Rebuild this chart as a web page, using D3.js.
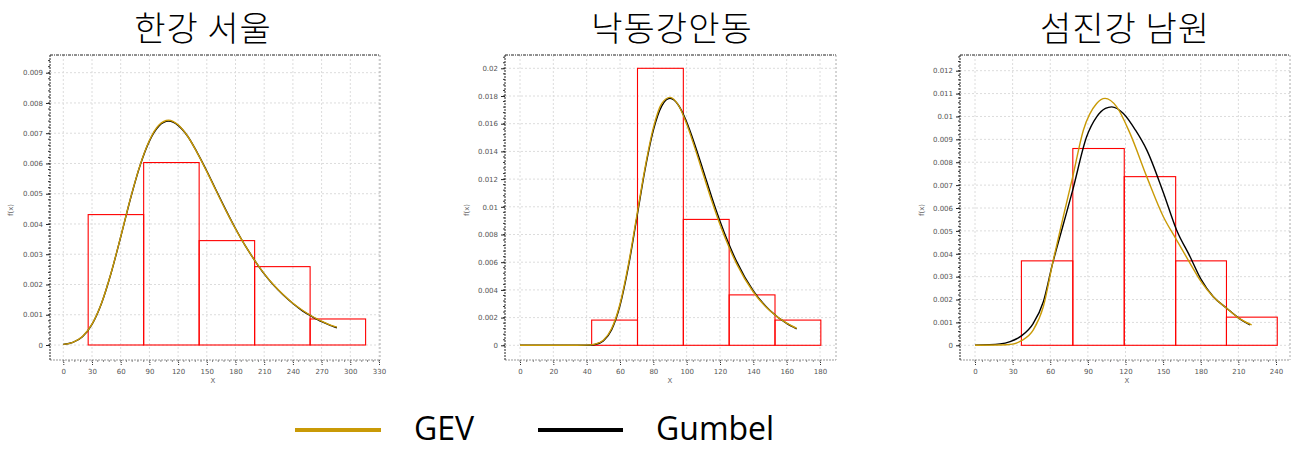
<!DOCTYPE html>
<html><head><meta charset="utf-8">
<script src="https://cdn.jsdelivr.net/npm/d3@7"></script>
<style>body{margin:0;background:#fff}</style>
</head><body><svg id="c" width="1297" height="449"></svg>
<script>
// ---------- DATA ----------
const titles = ["한강 서울", "낙동강안동", "섬진강 남원"];
const seriesNames = ["GEV", "Gumbel"];
const yLabel = "f(x)";
const xLabel = "X";

// Panel 1 : 한강 서울
const p1XTicks = [0, 30, 60, 90, 120, 150, 180, 210, 240, 270, 300, 330];
const p1YTicks = [0, 0.001, 0.002, 0.003, 0.004, 0.005, 0.006, 0.007, 0.008, 0.009];
const p1BinEdges = [26, 84, 142, 200, 258, 316];
const p1BinDensity = [0.00431, 0.00603, 0.00345, 0.00259, 0.00086];
const p1CurveX = [0, 10, 20, 30, 40, 50, 60, 70, 80, 90, 100, 110, 120, 130, 140, 150, 160, 170, 180, 190, 200, 210, 220, 230, 240, 250, 260, 270, 280, 286];
const p1GumbelY = [0.00002, 0.000085, 0.00027, 0.00068, 0.00138, 0.00238, 0.00357, 0.00481, 0.00591, 0.00674, 0.00724, 0.0074, 0.00726, 0.0069, 0.00636, 0.00575, 0.0051, 0.00446, 0.00385, 0.00329, 0.0028, 0.00235, 0.00197, 0.00165, 0.00137, 0.00113, 0.00094, 0.00077, 0.00064, 0.00057];
const p1GevY = [0.00002, 0.00009, 0.00028, 0.00069, 0.00139, 0.00239, 0.00358, 0.00482, 0.00592, 0.00676, 0.00727, 0.00743, 0.00728, 0.0069, 0.00635, 0.00573, 0.00508, 0.00444, 0.00384, 0.00329, 0.0028, 0.00236, 0.00198, 0.00166, 0.00138, 0.00115, 0.00095, 0.00079, 0.00065, 0.00059];

// Panel 2 : 낙동강안동
const p2XTicks = [0, 20, 40, 60, 80, 100, 120, 140, 160, 180];
const p2YTicks = [0, 0.002, 0.004, 0.006, 0.008, 0.01, 0.012, 0.014, 0.016, 0.018, 0.02];
const p2BinEdges = [43, 70.5, 98, 125.5, 153, 180.5];
const p2BinDensity = [0.00182, 0.02, 0.00909, 0.00364, 0.00182];
const p2CurveX = [0, 20, 30, 40, 45, 50, 55, 60, 65, 70, 75, 80, 85, 90, 95, 100, 105, 110, 115, 120, 125, 130, 140, 150, 160, 166];
const p2GumbelY = [0, 0, 0, 0.000007, 0.00006, 0.00032, 0.00113, 0.00287, 0.00566, 0.00915, 0.01267, 0.01552, 0.01727, 0.01783, 0.01735, 0.01612, 0.01445, 0.01259, 0.01071, 0.00896, 0.0074, 0.00604, 0.00393, 0.00251, 0.00158, 0.00119];
const p2GevY = [0, 0, 0, 0.00001, 0.00008, 0.00036, 0.00121, 0.00298, 0.0058, 0.0093, 0.0128, 0.0157, 0.01745, 0.0179, 0.01735, 0.01598, 0.01422, 0.01233, 0.01045, 0.00872, 0.0072, 0.00588, 0.00385, 0.00249, 0.0016, 0.00123];

// Panel 3 : 섬진강 남원
const p3XTicks = [0, 30, 60, 90, 120, 150, 180, 210, 240];
const p3YTicks = [0, 0.001, 0.002, 0.003, 0.004, 0.005, 0.006, 0.007, 0.008, 0.009, 0.01, 0.011, 0.012];
const p3BinEdges = [37, 78, 119, 160, 200.5, 241];
const p3BinDensity = [0.00369, 0.0086, 0.00737, 0.00369, 0.00123];
const p3GumbelX = [0, 20, 28, 37, 46.5, 54.5, 62, 70, 77.9, 89, 97, 104, 109, 118.3, 128, 137, 150, 160.8, 171.5, 180, 190, 200.7, 210, 219.3];
const p3GumbelY = [0, 0.00006, 0.00016, 0.00041, 0.00096, 0.0019, 0.0036, 0.0052, 0.00678, 0.00911, 0.00998, 0.01035, 0.01042, 0.01013, 0.0094, 0.00853, 0.0067, 0.00503, 0.00387, 0.0029, 0.00212, 0.00162, 0.0012, 0.00089];
const p3GevX = [0, 20, 30, 37, 46.5, 54.5, 62.4, 70.4, 77.9, 86.4, 97, 103.7, 113, 123.6, 137, 150.2, 160, 171.5, 180, 190, 200.7, 210, 220.6];
const p3GevY = [0, 0.00001, 0.00005, 0.0002, 0.00067, 0.00169, 0.00372, 0.00562, 0.00736, 0.0094, 0.01057, 0.01079, 0.01042, 0.00926, 0.00736, 0.00562, 0.00467, 0.00358, 0.0028, 0.00212, 0.00162, 0.0012, 0.00089];

// ---------- LAYOUT ----------
const colors = { GEV: "#C99A06", Gumbel: "#000000", bar: "#FF0000" };
const panels = [
  { title: titles[0], titleX: 203, left: 50, right: 380, x0: 63.3, x1: 379, y0: 345, y1: 72.7,
    xTicks: p1XTicks, yTicks: p1YTicks, edges: p1BinEdges, dens: p1BinDensity,
    gum: [p1CurveX, p1GumbelY], gev: [p1CurveX, p1GevY], ylabX: 13, xlabX: 213 },
  { title: titles[1], titleX: 672, left: 505, right: 836, x0: 520, x1: 820, y0: 345.3, y1: 68.3,
    xTicks: p2XTicks, yTicks: p2YTicks, edges: p2BinEdges, dens: p2BinDensity,
    gum: [p2CurveX, p2GumbelY], gev: [p2CurveX, p2GevY], ylabX: 469, xlabX: 670 },
  { title: titles[2], titleX: 1125, left: 960, right: 1290, x0: 975, x1: 1276, y0: 345.3, y1: 70.7,
    xTicks: p3XTicks, yTicks: p3YTicks, edges: p3BinEdges, dens: p3BinDensity,
    gum: [p3GumbelX, p3GumbelY], gev: [p3GevX, p3GevY], ylabX: 924, xlabX: 1127 }
];
const plotTop = 55, plotBottom = 360;

const svg = d3.select("#c");
svg.append("rect").attr("width", 1297).attr("height", 449).attr("fill", "#fff");
const fmt = d => d === 0 ? "0" : String(+d.toFixed(4));

panels.forEach(p => {
  const xTop = p.xTicks[p.xTicks.length - 1];
  const yTop = p.yTicks[p.yTicks.length - 1];
  const x = d3.scaleLinear().domain([0, xTop]).range([p.x0, p.x1]);
  const y = d3.scaleLinear().domain([0, yTop]).range([p.y0, p.y1]);
  const g = svg.append("g");

  // gridlines
  g.selectAll(".gx").data(p.xTicks).join("line")
    .attr("x1", d => x(d)).attr("x2", d => x(d)).attr("y1", plotTop).attr("y2", plotBottom)
    .attr("stroke", "#dcdcdc").attr("stroke-width", 1).attr("stroke-dasharray", "2,2");
  g.selectAll(".gy").data(p.yTicks).join("line")
    .attr("x1", p.left).attr("x2", p.right).attr("y1", d => y(d)).attr("y2", d => y(d))
    .attr("stroke", "#dcdcdc").attr("stroke-width", 1).attr("stroke-dasharray", "2,2");

  // frame: top & right
  g.append("line").attr("x1", p.left).attr("x2", p.right).attr("y1", plotTop).attr("y2", plotTop)
    .attr("stroke", "#222").attr("stroke-width", 1).attr("stroke-dasharray", "3,1,1,1");
  g.append("line").attr("x1", p.right).attr("x2", p.right).attr("y1", plotTop).attr("y2", plotBottom)
    .attr("stroke", "#aaa").attr("stroke-width", 1).attr("stroke-dasharray", "2,2");

  // minor ticks
  const xStep = p.xTicks[1] - p.xTicks[0];
  const yStep = p.yTicks[1] - p.yTicks[0];
  const xMinor = d3.range(0, xTop + 1e-9, xStep / 5).filter(v => x(v) >= p.left && x(v) <= p.right);
  const yMinor = d3.range(0, yTop + yStep, yStep / 5).filter(v => y(v) >= plotTop && y(v) <= plotBottom);

  // axes
  const xAxis = d3.axisBottom(x).tickValues(p.xTicks).tickFormat(d => d).tickSize(5).tickPadding(4);
  const ax = g.append("g").attr("transform", `translate(0,${plotBottom})`).call(xAxis);
  ax.select(".domain").remove();
  ax.selectAll(".tick line").attr("stroke", "#333").attr("stroke-dasharray", "1,1");
  ax.selectAll("text").attr("font-family", "DejaVu Sans").attr("font-size", 7).attr("fill", "#555");
  g.append("line").attr("x1", p.left).attr("x2", p.right).attr("y1", plotBottom).attr("y2", plotBottom)
    .attr("stroke", "#999").attr("stroke-dasharray", "2,1");
  g.selectAll(".mx").data(xMinor).join("line")
    .attr("x1", d => x(d)).attr("x2", d => x(d)).attr("y1", plotBottom).attr("y2", plotBottom + 2)
    .attr("stroke", "#888");

  const yAxis = d3.axisLeft(y).tickValues(p.yTicks).tickFormat(fmt).tickSize(4).tickPadding(3);
  const ay = g.append("g").attr("transform", `translate(${p.left},0)`).call(yAxis);
  ay.select(".domain").remove();
  ay.selectAll(".tick line").attr("stroke", "#222");
  ay.selectAll("text").attr("font-family", "DejaVu Sans").attr("font-size", 7).attr("fill", "#555");
  g.append("line").attr("x1", p.left).attr("x2", p.left).attr("y1", plotTop).attr("y2", plotBottom)
    .attr("stroke", "#222").attr("stroke-dasharray", "2,1");
  g.selectAll(".my").data(yMinor).join("line")
    .attr("x1", p.left - 2).attr("x2", p.left).attr("y1", d => y(d)).attr("y2", d => y(d))
    .attr("stroke", "#333");

  // axis titles
  g.append("text").attr("transform", `translate(${p.ylabX},210) rotate(-90)`)
    .attr("text-anchor", "middle").attr("font-family", "DejaVu Sans").attr("font-size", 7)
    .attr("fill", "#666").text(yLabel);
  g.append("text").attr("x", p.xlabX).attr("y", 383).attr("text-anchor", "middle")
    .attr("font-family", "DejaVu Sans").attr("font-size", 7).attr("fill", "#666").text(xLabel);

  // histogram
  g.selectAll(".bar").data(p.dens).join("rect")
    .attr("x", (d, i) => x(p.edges[i]))
    .attr("width", (d, i) => x(p.edges[i + 1]) - x(p.edges[i]))
    .attr("y", d => y(d)).attr("height", d => y(0) - y(d))
    .attr("fill", "none").attr("stroke", colors.bar).attr("stroke-width", 1.1);

  // curves
  const line = d3.line().x(d => x(d[0])).y(d => y(d[1])).curve(d3.curveMonotoneX);
  const gumPts = p.gum[0].map((v, i) => [v, p.gum[1][i]]);
  const gevPts = p.gev[0].map((v, i) => [v, p.gev[1][i]]);
  g.append("path").attr("d", line(gumPts)).attr("fill", "none")
    .attr("stroke", colors.Gumbel).attr("stroke-width", 1.4);
  g.append("path").attr("d", line(gevPts)).attr("fill", "none")
    .attr("stroke", colors.GEV).attr("stroke-width", 1.4);

  // title
  svg.append("text").attr("x", p.titleX).attr("y", 41).attr("text-anchor", "middle")
    .attr("font-family", "'Noto Sans CJK KR', 'Noto Sans'").attr("font-size", 34)
    .attr("font-weight", 300).attr("letter-spacing", 1)
    .attr("fill", "#000").text(p.title);
});

// legend
const legend = [
  { name: seriesNames[0], x1: 295, x2: 381, tx: 414 },
  { name: seriesNames[1], x1: 538, x2: 623, tx: 656 }
];
legend.forEach(l => {
  svg.append("line").attr("x1", l.x1).attr("x2", l.x2).attr("y1", 430).attr("y2", 430)
    .attr("stroke", colors[l.name]).attr("stroke-width", 4);
  svg.append("text").attr("x", l.tx).attr("y", 440).attr("font-family", "'Open Sans'")
    .attr("font-size", 32).attr("fill", "#000").text(l.name);
});
</script>
</body></html>
